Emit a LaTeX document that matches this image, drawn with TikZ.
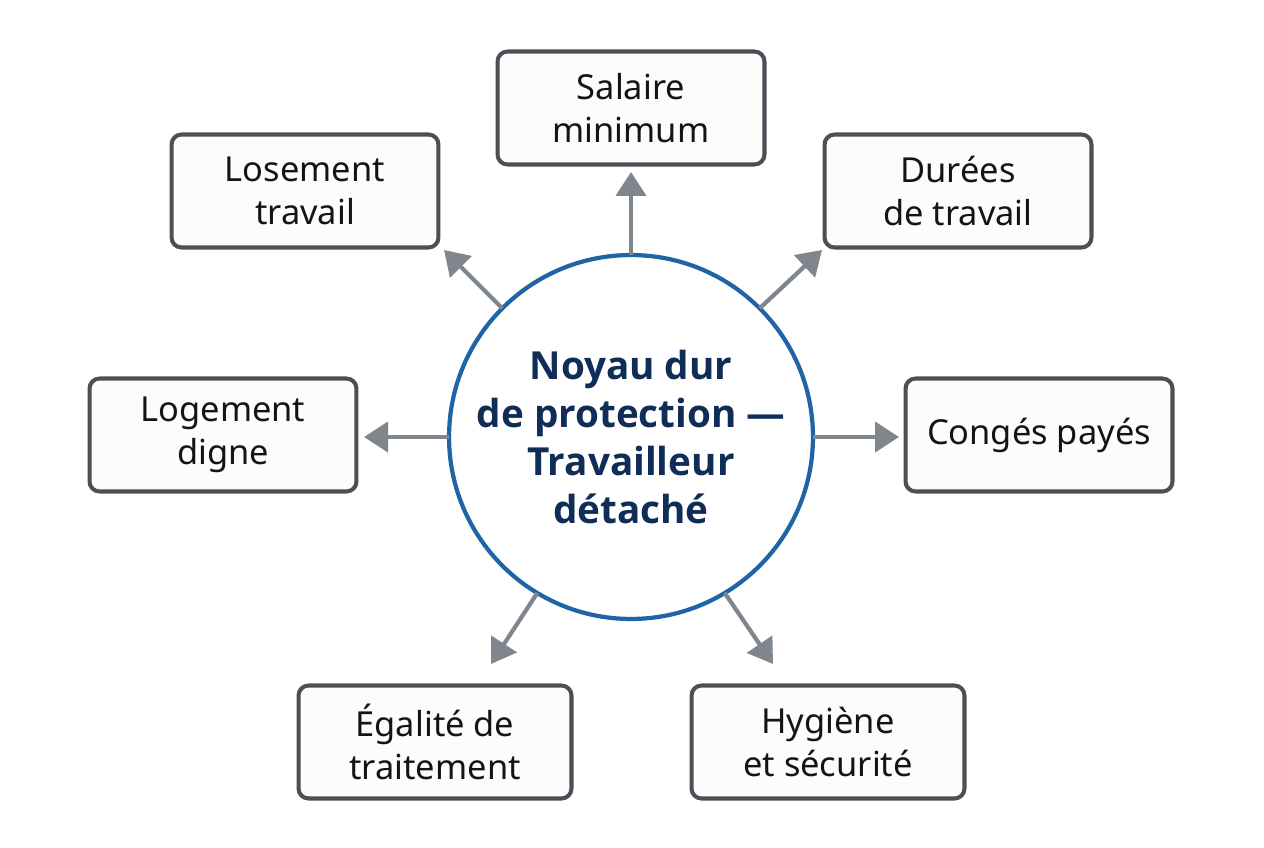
\documentclass[tikz,border=0pt]{standalone}
\usepackage{fontspec}
\setmainfont{Noto Sans}
\newfontfamily\hubfont{Open Sans}
\usetikzlibrary{arrows.meta}
\definecolor{ringblue}{HTML}{1F64A5}
\definecolor{hubtext}{HTML}{0F2D57}
\definecolor{boxline}{HTML}{4B5056}
\definecolor{boxfill}{HTML}{FCFCFD}
\definecolor{arrowgray}{HTML}{80868D}
\definecolor{labeltext}{HTML}{141414}
\begin{document}
\begin{tikzpicture}[x=0.02cm,y=-0.02cm,
  hub/.style={circle, draw=ringblue, line width=2.4pt, fill=white,
    minimum size=7.28cm, inner sep=0pt, outer sep=0pt, align=center,
    text=hubtext, font=\hubfont\bfseries\fontsize{22}{27.5}\selectfont},
  topic/.style={rectangle, rounded corners=0.2cm, draw=boxline, line width=2.3pt,
    fill=boxfill, minimum width=5.34cm, minimum height=2.26cm, inner sep=0pt,
    align=center, text=labeltext, font=\fontsize{19.6}{24.5}\selectfont},
  widetopic/.style={topic, minimum width=5.46cm},
  spoke/.style={draw=arrowgray, line width=2.4pt,
    -{Triangle[length=0.48cm, width=0.6cm]}}]
\path[use as bounding box] (0,0) rectangle (1264,848);

% central circle
\node[hub] (hub) at (631,437) {Noyau dur\\de protection —\\Travailleur\\détaché};

% surrounding topics
\node[topic] (salaire) at (631,108) {Salaire\\minimum};
\node[topic] (logtrav) at (305,191) {Losement\\travail};
\node[topic] (durees) at (958,191) {Durées\\de travail};
\node[topic] (logdig) at (223,435) {Logement\\digne};
\node[topic] (conges) at (1039,435) {Congés payés};
\node[widetopic] (egalite) at (435,742) {Égalité de\\traitement};
\node[widetopic] (hygiene) at (828,742) {Hygiène\\et sécurité};

% arrow tips, stopping short of each box
\coordinate (tS) at (631,172);
\coordinate (tLT) at (444,250);
\coordinate (tDT) at (822,250);
\coordinate (tLD) at (364,437);
\coordinate (tCP) at (899,437);
\coordinate (tEG) at (491,664);
\coordinate (tHS) at (773,664);

\draw[spoke] (hub.90) -- (tS);
\draw[spoke] (hub.135) -- (tLT);
\draw[spoke] (hub.45) -- (tDT);
\draw[spoke] (hub.180) -- (tLD);
\draw[spoke] (hub.0) -- (tCP);
\draw[spoke] (hub.239) -- (tEG);
\draw[spoke] (hub.301) -- (tHS);
\end{tikzpicture}
\end{document}
